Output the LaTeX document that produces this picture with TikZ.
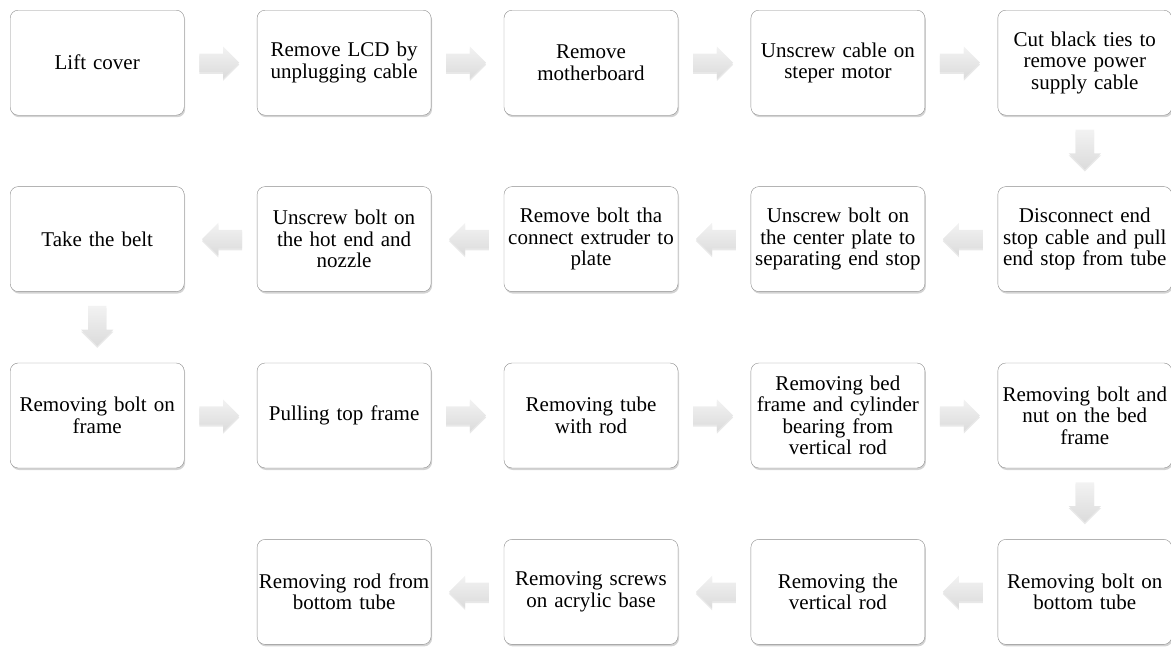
\documentclass[tikz,border=0pt]{standalone}
\usepackage{fontspec}
\setmainfont{Liberation Serif}
\usetikzlibrary{positioning,calc,shapes.arrows,shadows}

\begin{document}
\begin{tikzpicture}[x=1pt,y=1pt,node distance=71pt and 72.5pt]
  \tikzstyle{phase}=[draw=black!45,fill=white,rounded corners=8pt,minimum width=174pt,minimum height=105pt,text width=174pt,inner xsep=0pt,inner ysep=1pt,align=center,font=\fontsize{21}{21.5}\selectfont,drop shadow={opacity=0.35,shadow xshift=1pt,shadow yshift=-2pt}]
  \tikzstyle{flow}=[single arrow,single arrow head extend=7pt,inner xsep=0pt,inner ysep=9pt,minimum height=40pt,draw=none,top color=black!5,bottom color=black!14,drop shadow={opacity=0.18,shadow xshift=0pt,shadow yshift=-2pt}]
  \tikzstyle{rflow}=[flow,xshift=-6pt]
  \tikzstyle{lflow}=[flow,xshift=6pt,rotate=180]
  \tikzstyle{dflow}=[flow,yshift=6pt,rotate=-90]
  \useasboundingbox (0,0) rectangle (1171,-648);
  % first row
  \node[phase,anchor=north west] (lift) at (10,-10) {Lift cover};
  \node[phase,right=of lift] (lcd) {Remove LCD by\\unplugging cable};
  \node[phase,right=of lcd] (mobo) {Remove\\motherboard};
  \node[phase,right=of mobo] (motor) {Unscrew cable on\\steper motor};
  \node[phase,right=of motor] (ties) {Cut black ties to\\remove power\\supply cable};
  % second row
  \node[phase,below=of ties] (endstop) {Disconnect end\\stop cable and pull\\end stop from tube};
  \node[phase,left=of endstop] (plate) {Unscrew bolt on\\the center plate to\\separating end stop};
  \node[phase,left=of plate] (extruder) {Remove bolt tha\\connect extruder to\\plate};
  \node[phase,left=of extruder] (hotend) {Unscrew bolt on\\the hot end and\\nozzle};
  \node[phase,left=of hotend] (belt) {Take the belt};
  % third row
  \node[phase,below=of belt] (frame) {Removing bolt on\\frame};
  \node[phase,right=of frame] (topframe) {Pulling top frame};
  \node[phase,right=of topframe] (tube) {Removing tube\\with rod};
  \node[phase,right=of tube] (bed) {Removing bed\\frame and cylinder\\bearing from\\vertical rod};
  \node[phase,right=of bed] (bednut) {Removing bolt and\\nut on the bed\\frame};
  % fourth row
  \node[phase,below=of bednut] (bottom) {Removing bolt on\\bottom tube};
  \node[phase,left=of bottom] (vrod) {Removing the\\vertical rod};
  \node[phase,left=of vrod] (screws) {Removing screws\\on acrylic base};
  \node[phase,left=of screws] (rodtube) {Removing rod from\\bottom tube};
  % arrows
  \node[rflow] (a1) at ($(lift)!0.5!(lcd)$) {};
  \node[rflow] (a2) at ($(lcd)!0.5!(mobo)$) {};
  \node[rflow] (a3) at ($(mobo)!0.5!(motor)$) {};
  \node[rflow] (a4) at ($(motor)!0.5!(ties)$) {};
  \node[dflow] (a5) at ($(ties)!0.5!(endstop)$) {};
  \node[lflow] (a6) at ($(endstop)!0.5!(plate)$) {};
  \node[lflow] (a7) at ($(plate)!0.5!(extruder)$) {};
  \node[lflow] (a8) at ($(extruder)!0.5!(hotend)$) {};
  \node[lflow] (a9) at ($(hotend)!0.5!(belt)$) {};
  \node[dflow] (a10) at ($(belt)!0.5!(frame)$) {};
  \node[rflow] (a11) at ($(frame)!0.5!(topframe)$) {};
  \node[rflow] (a12) at ($(topframe)!0.5!(tube)$) {};
  \node[rflow] (a13) at ($(tube)!0.5!(bed)$) {};
  \node[rflow] (a14) at ($(bed)!0.5!(bednut)$) {};
  \node[dflow] (a15) at ($(bednut)!0.5!(bottom)$) {};
  \node[lflow] (a16) at ($(bottom)!0.5!(vrod)$) {};
  \node[lflow] (a17) at ($(vrod)!0.5!(screws)$) {};
  \node[lflow] (a18) at ($(screws)!0.5!(rodtube)$) {};
\end{tikzpicture}
\end{document}
